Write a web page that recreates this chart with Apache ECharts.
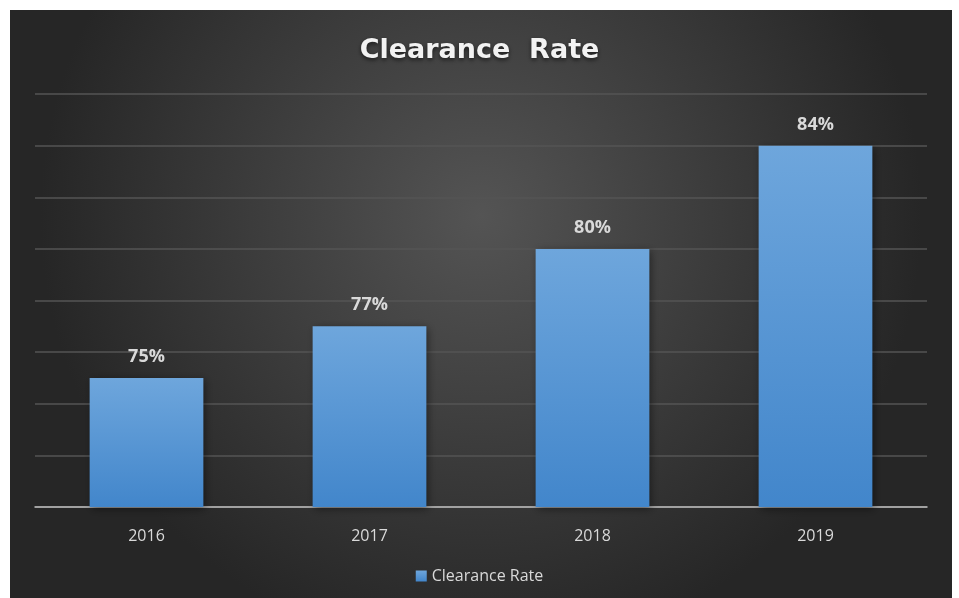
<!DOCTYPE html>
<html>
<head>
<meta charset="utf-8">
<script src="https://cdn.jsdelivr.net/npm/echarts@6/dist/echarts.min.js"></script>
<style>
  html, body { margin: 0; padding: 0; background: #fff; }
  #chart { width: 959px; height: 598px; }
</style>
</head>
<body>
<div id="chart"></div>
<script>
const years = ['2016', '2017', '2018', '2019']
const clearanceRate = [75, 77, 80, 84]
const seriesName = 'Clearance Rate'

const chart = echarts.init(document.getElementById('chart'))

chart.setOption({
  animation: false,
  backgroundColor: '#fff',
  graphic: [
    {
      type: 'rect',
      z: -10,
      silent: true,
      shape: { x: 10, y: 10, width: 942, height: 588 },
      style: {
        fill: {
          type: 'radial',
          x: 0.5, y: 0.35, r: 0.75,
          colorStops: [
            { offset: 0, color: '#545454' },
            { offset: 1, color: '#262626' }
          ]
        }
      }
    }
  ],
  title: {
    text: 'Clearance  Rate',
    left: 'center',
    top: 32,
    textStyle: {
      color: '#f2f2f2',
      fontFamily: 'DejaVu Sans',
      fontWeight: 'bold',
      fontSize: 27,
      textShadowColor: 'rgba(0,0,0,0.6)',
      textShadowBlur: 4,
      textShadowOffsetY: 2
    }
  },
  legend: {
    bottom: 9,
    left: 'center',
    itemWidth: 11,
    itemHeight: 11,
    itemGap: 6,
    icon: 'rect',
    textStyle: { color: '#d9d9d9', fontFamily: 'Open Sans', fontSize: 16 },
    data: [seriesName]
  },
  grid: { left: 35, right: 32, top: 94, bottom: 91, containLabel: false },
  xAxis: {
    type: 'category',
    data: years,
    axisLine: { lineStyle: { color: '#bfbfbf', width: 1.5 } },
    axisTick: { show: false },
    axisLabel: { color: '#d9d9d9', fontFamily: 'Open Sans', fontSize: 16, margin: 21 }
  },
  yAxis: {
    type: 'value',
    min: 70,
    max: 86,
    interval: 2,
    axisLabel: { show: false },
    axisLine: { show: false },
    axisTick: { show: false },
    splitLine: { lineStyle: { color: '#555555', width: 1.5 } }
  },
  series: [
    {
      name: seriesName,
      type: 'bar',
      data: clearanceRate,
      barWidth: '51%',
      itemStyle: {
        color: {
          type: 'linear', x: 0, y: 0, x2: 0, y2: 1,
          colorStops: [
            { offset: 0, color: '#6ea6dc' },
            { offset: 1, color: '#4286cb' }
          ]
        },
        shadowColor: 'rgba(0,0,0,0.45)',
        shadowBlur: 8,
        shadowOffsetX: 2,
        shadowOffsetY: 2
      },
      label: {
        show: true,
        position: 'top',
        distance: 12,
        formatter: '{c}%',
        color: '#d9d9d9',
        fontFamily: 'Open Sans',
        fontWeight: 'bold',
        fontSize: 18
      }
    }
  ]
})
</script>
</body>
</html>
